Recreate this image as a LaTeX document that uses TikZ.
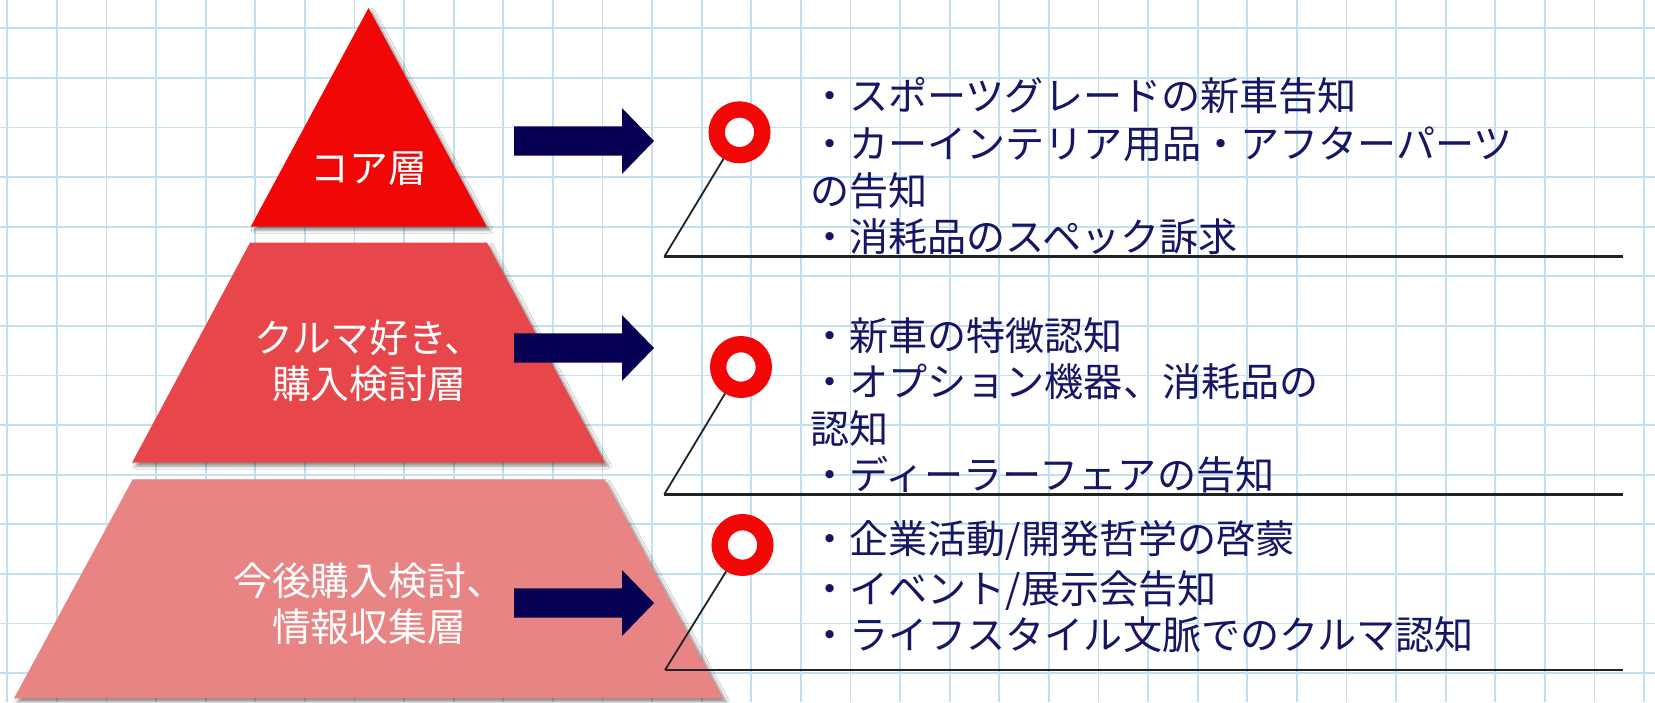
\documentclass[tikz,border=0pt]{standalone}
\usepackage{fontspec}
\newfontfamily\jp{Noto Sans CJK JP}
\usetikzlibrary{shadows.blur}
\definecolor{gridblue}{RGB}{196,224,238}
\definecolor{redA}{RGB}{242,7,7}
\definecolor{redB}{RGB}{231,71,74}
\definecolor{redC}{RGB}{232,132,131}
\definecolor{navyarrow}{RGB}{5,0,82}
\definecolor{navytext}{RGB}{22,22,100}
\definecolor{linegray}{RGB}{34,34,34}
\begin{document}
\begin{tikzpicture}[x=1pt,y=-1pt,
  gridline/.style={draw=gridblue,line width=1.8pt},
  layer/.style={blur shadow={shadow xshift=3.5pt,shadow yshift=-3.5pt,shadow blur radius=3pt,shadow opacity=45}},
  pyrtext/.style={font=\jp\fontsize{38.8}{46}\selectfont,text=white,anchor=base,inner sep=0pt},
  item/.style={font=\jp\fontsize{39.1}{46}\selectfont,text=navytext,anchor=base west,inner sep=0pt},
  ring/.style={circle,draw=redA,line width=16.3pt,fill=white,minimum size=45.7pt,inner sep=0pt,outer sep=8.15pt},
  slant/.style={draw=linegray,line width=1.8pt},
  base/.style={draw=linegray,line width=2.6pt},
  bigarrow/.style={fill=navyarrow}
]
\useasboundingbox (0,0) rectangle (1655,702);
\fill[white] (0,0) rectangle (1655,702);
% grid
\foreach \i in {0,...,33} \draw[gridline] (7.3+49.6*\i,0) -- (7.3+49.6*\i,702);
\foreach \j in {0,...,13} \draw[gridline] (0,28.3+49.6*\j) -- (1655,28.3+49.6*\j);
% pyramid
\path[fill=redC,layer] (132.7,479.3) -- (604.5,479.3) -- (723,698.3) -- (14,698.3) -- cycle;
\path[fill=redB,layer] (250,242.7) -- (487,242.7) -- (605,462.7) -- (132,462.7) -- cycle;
\path[fill=redA,layer] (368.5,8) -- (486.7,226.7) -- (250.7,226.7) -- cycle;
\node[pyrtext] (t1) at (369,182.7) {コア層};
\node[pyrtext] (t2a) at (369,352.7) {クルマ好き、};
\node[pyrtext] (t2b) at (369,398.7) {購入検討層};
\node[pyrtext] (t3a) at (369,595.7) {今後購入検討、};
\node[pyrtext] (t3b) at (369,641.2) {情報収集層};
% arrows
\foreach \c in {141,348,603}
  \fill[bigarrow] (514,\c-14.7) -- (622,\c-14.7) -- (622,\c-33) -- (654,\c) -- (622,\c+33) -- (622,\c+14.7) -- (514,\c+14.7) -- cycle;
% callout lines
\coordinate (c1) at (664.3,256.7); \coordinate (e1) at (1622.7,256.7);
\coordinate (c2) at (664.3,494.3); \coordinate (e2) at (1622.7,494.3);
\coordinate (c3) at (665,670);     \coordinate (e3) at (1622.7,670);
\node[ring] (r1) at (739.5,132.3) {};
\node[ring] (r2) at (741,367) {};
\node[ring] (r3) at (742.5,545) {};
\draw[slant] (r1) -- (c1);
\draw[slant] (r2) -- (c2);
\draw[slant] (r3) -- (c3);
\draw[base] (c1) -- (e1);
\draw[base] (c2) -- (e2);
\draw[base] (c3) -- (e3);
% texts
\node[item] (a1) at (810,110.7) {・スポーツグレードの新車告知};
\node[item] (a2) at (810,158.7) {・カーインテリア用品・アフターパーツ};
\node[item] (a3) at (810,205.7) {の告知};
\node[item] (a4) at (810,251.7) {・消耗品のスペック訴求};
\node[item] (b1) at (810,350.7) {・新車の特徴認知};
\node[item] (b2) at (810,396.2) {・オプション機器、消耗品の};
\node[item] (b3) at (810,443) {認知};
\node[item] (b4) at (810,489.2) {・ディーラーフェアの告知};
\node[item] (d1) at (810,553.7) {・企業活動/開発哲学の啓蒙};
\node[item] (d2) at (810,603.7) {・イベント/展示会告知};
\node[item] (d3) at (810,649.7) {・ライフスタイル文脈でのクルマ認知};
\end{tikzpicture}
\end{document}
